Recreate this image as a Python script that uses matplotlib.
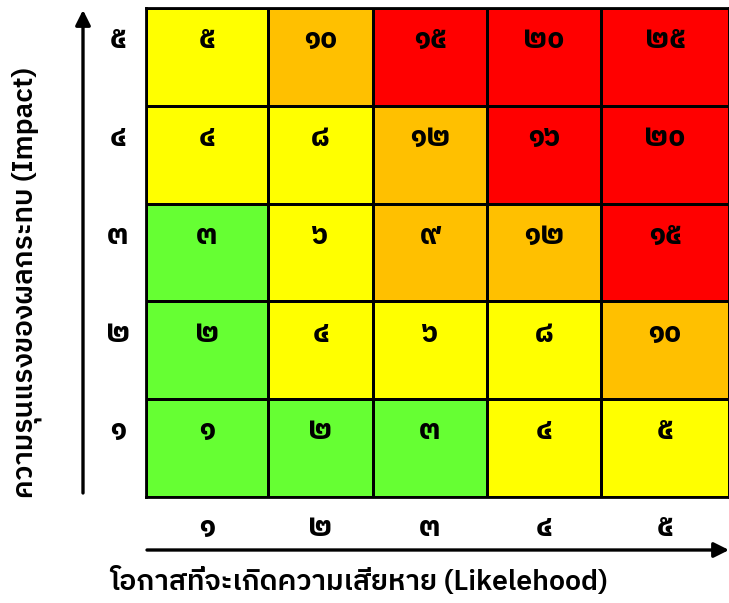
import matplotlib
matplotlib.use("Agg")
import numpy as np
import matplotlib.pyplot as plt
from matplotlib.colors import ListedColormap

plt.rcParams['font.family'] = ['IBM Plex Sans Thai', 'DejaVu Sans']

# Thai digits for 1..5 (likelihood / impact levels)
likelihood = [1, 2, 3, 4, 5]
impact = [1, 2, 3, 4, 5]
thai_digits = "๐๑๒๓๔๕๖๗๘๙"

# risk zone per cell, rows from impact 1 (bottom) to 5 (top)
# 0 = green, 1 = yellow, 2 = orange, 3 = red
zones = [
    [0, 0, 0, 1, 1],
    [0, 1, 1, 1, 2],
    [0, 1, 2, 2, 3],
    [1, 1, 2, 3, 3],
    [1, 2, 3, 3, 3],
]
zone_colors = ["#66FF33", "#FFFF00", "#FFC000", "#FF0000"]

x_label = "โอกาสที่จะเกิดความเสียหาย (Likelehood)"
y_label = "ความรุนแรงของผลกระทบ (Impact)"


def thai(n):
    return "".join(thai_digits[int(c)] for c in str(n))


W, H = 729, 603
fig = plt.figure(figsize=(W / 100, H / 100), dpi=100)
left, right, top, bottom = 146, 729, 8, 497
ax = fig.add_axes([left / W, 1 - bottom / H, (right - left) / W, (bottom - top) / H])

# the table columns are not quite equal in the original
col_w = [122, 105, 114, 114, 128]
xedges = np.concatenate([[0], np.cumsum(col_w)]) / sum(col_w) * 5
yedges = np.arange(6)

ax.pcolormesh(xedges, yedges, np.array(zones), cmap=ListedColormap(zone_colors),
              vmin=-0.5, vmax=3.5, edgecolors="black", linewidth=2.0)
ax.set_xlim(0, 5)
ax.set_ylim(0, 5)
ax.set_xticks([])
ax.set_yticks([])
for s in ax.spines.values():
    s.set_linewidth(2.0)

digit_kw = dict(ha="center", va="center", fontsize=21, fontweight="bold")
xc = (xedges[:-1] + xedges[1:]) / 2
for i, imp in enumerate(impact):
    for j, lk in enumerate(likelihood):
        ax.text(xc[j], i + 0.67, thai(imp * lk), **digit_kw)
    # impact level labels on the left
    ax.text(-28 / (right - left) * 5, i + 0.67, thai(imp), **digit_kw)

for j, lk in enumerate(likelihood):
    ax.text(xc[j], -31 / (bottom - top) * 5, thai(lk), **digit_kw)

# axis arrows
arrow = dict(arrowstyle="-|>,head_length=0.9,head_width=0.45", color="black", lw=2.4,
             shrinkA=0, shrinkB=0)
ax.annotate("", xy=(83, H - 10), xytext=(83, H - 493), xycoords="figure pixels",
            textcoords="figure pixels", arrowprops=arrow, annotation_clip=False)
ax.annotate("", xy=(729, H - 550), xytext=(147, H - 550), xycoords="figure pixels",
            textcoords="figure pixels", arrowprops=arrow, annotation_clip=False)

fig.text(359 / W, 1 - 581 / H, x_label, ha="center", va="center",
         fontsize=20.5, fontweight="semibold")
fig.text(27 / W, 1 - 283 / H, y_label, ha="center", va="center", rotation=90,
         fontsize=20.3, fontweight="semibold")

fig.savefig("out.png", dpi=100)
